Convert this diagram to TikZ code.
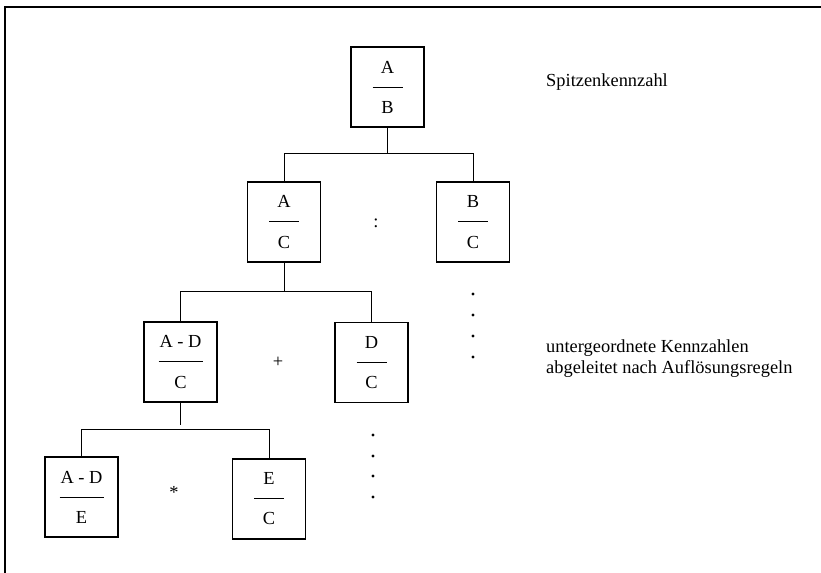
\documentclass[tikz,border=0pt]{standalone}
\usepackage{fontspec}
\setmainfont{Liberation Serif}
% numerator over a short rule over denominator
\newcommand\ratiotext[3]{\vbox{\offinterlineskip
  \hbox to #3{\hss#1\hss}\kern13.5bp
  \hrule height 0.9bp width #3\kern13.5bp
  \hbox to #3{\hss#2\hss}}}
\begin{document}
\begin{tikzpicture}[x=1bp,y=-1bp,
  every node/.style={font=\fontsize{18.4bp}{22bp}\selectfont, inner sep=0pt},
  ratiobox/.style={draw, line width=1.1bp, minimum width=73bp, minimum height=80bp},
  link/.style={line width=1bp},
  frameline/.style={line width=1.6bp},
  dotmark/.style={fill=black}]
\useasboundingbox (0,0) rectangle (821,573);

% frame
\draw[frameline] (821,7) -- (5,7) -- (5,573);

% key figures
\node[ratiobox] (AB)  at (387.5,87)  {\ratiotext{A}{B}{30bp}};
\node[ratiobox] (AC)  at (284,222)   {\ratiotext{A}{C}{30bp}};
\node[ratiobox] (BC)  at (473,222)   {\ratiotext{B}{C}{30bp}};
\node[ratiobox] (ADC) at (180.5,362) {\ratiotext{A - D}{C}{44bp}};
\node[ratiobox] (DC)  at (371.5,362.5) {\ratiotext{D}{C}{30bp}};
\node[ratiobox] (ADE) at (81.5,497)  {\ratiotext{A - D}{E}{44bp}};
\node[ratiobox] (EC)  at (269,499)   {\ratiotext{E}{C}{30bp}};

% operators between siblings
\node (colon) at (376,223) {:};
\node (plus)  at (278,362) {+};
\node (times) at (174,492) {*};

% tree connectors
\coordinate (bar1) at (0,154);
\coordinate (bar2) at (0,291);
\coordinate (bar3) at (0,429);
\draw[link] (AB.south) -- (AB.south |- bar1);
\draw[link] (AC.north) -- (AC.north |- bar1) -- (BC.north |- bar1) -- (BC.north);
\draw[link] (AC.south) -- (AC.south |- bar2);
\draw[link] (ADC.north) -- (ADC.north |- bar2) -- (DC.north |- bar2) -- (DC.north);
\draw[link] (ADC.south) -- ([yshift=4bp]ADC.south |- bar3);
\draw[link] (ADE.north) -- (ADE.north |- bar3) -- (EC.north |- bar3) -- (EC.north);

% continuation dots
\foreach \y in {294,315,336,357} \fill[dotmark] (473,\y) circle (1.6bp);
\foreach \y in {435,456,476,497} \fill[dotmark] (373,\y) circle (1.6bp);

% captions
\node[anchor=base west] (top) at (546,87) {Spitzenkennzahl};
\node[anchor=base west] (sub1) at (546,352) {untergeordnete Kennzahlen};
\node[anchor=base west] (sub2) at (546,373) {abgeleitet nach Auflösungsregeln};
\end{tikzpicture}
\end{document}
